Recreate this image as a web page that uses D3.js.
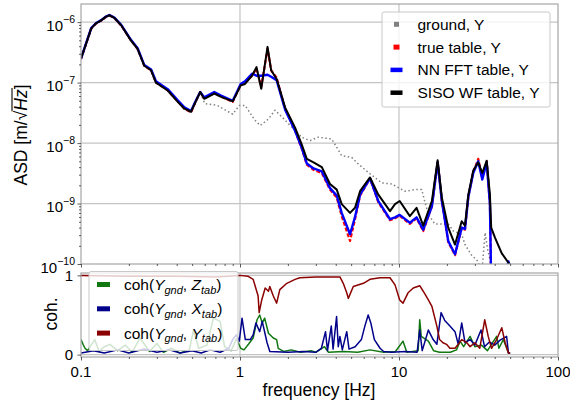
<!DOCTYPE html>
<html>
<head>
<meta charset="utf-8">
<script src="https://cdn.jsdelivr.net/npm/d3@7"></script>
<style>
  body { margin: 0; background: #fff; }
  text { font-family: "Liberation Sans", Arial, sans-serif; fill: #000; }
</style>
</head>
<body>
<svg id="chart" width="570" height="404"></svg>
<script>
// ASD curves (top panel)
const fTab = [0.1,0.108,0.116,0.124,0.134,0.143,0.151,0.162,0.179,0.206,0.227,0.25,0.276,0.296,0.351,0.406,0.447,0.492,0.529,0.562,
  0.596,0.689,0.76,0.9,0.93,1.01,1.075,1.19,1.27,1.36,1.49,1.57,1.7,1.92,2.22,2.44,2.63,2.9,3.27,3.68,
  4.06,4.36,4.92,5.29,5.69,6.57,7.41,8.78,9.44,10.1,11.7,12.9,14.2,16.1,17.5,18.6,20.4,22.5,24.8,26,
  27.3,29.3,31.5,33.4,35.6,37.3,38,40.2,44.3,48.8,50];
const sisoTable = [2.5e-7,4.5e-7,7.9e-7,9.5e-7,1.07e-6,1.22e-6,1.3e-6,1.18e-6,8.9e-7,5e-7,3.6e-7,1.9e-7,1.6e-7,1.0e-7,7.4e-8,4.8e-8,3.7e-8,3.3e-8,5e-8,7e-8,
  5.4e-8,6.6e-8,5.8e-8,4.9e-8,5.8e-8,9e-8,9.5e-8,1.3e-7,1.8e-7,7.9e-8,3.9e-7,1.6e-7,1.15e-7,3.9e-8,1.8e-8,9.6e-9,5.5e-9,4.8e-9,4e-9,2.1e-9,
  1.7e-9,9.8e-10,7e-10,8.5e-10,1.6e-9,2.7e-9,1.4e-9,7.5e-10,9.8e-10,1.1e-9,6.2e-10,8.5e-10,4.3e-10,1.1e-9,5.2e-9,1.25e-9,4e-10,2.1e-10,5.1e-10,4.3e-10,
  1.4e-9,3.5e-9,4.8e-9,3.2e-9,5.1e-9,1.4e-9,4e-10,2.7e-10,1.5e-10,1.05e-10,9.5e-11];
const nnTable = [2.5e-7,4.6e-7,8e-7,9.6e-7,1.08e-6,1.23e-6,1.31e-6,1.19e-6,9e-7,5.1e-7,3.7e-7,1.95e-7,1.65e-7,1.05e-7,7.8e-8,5.1e-8,3.9e-8,3.4e-8,5.1e-8,7e-8,
  5.7e-8,7e-8,6.1e-8,5e-8,6e-8,9.5e-8,1.05e-7,1.4e-7,1.3e-7,1.3e-7,1.35e-7,1.25e-7,1.1e-7,3.6e-8,1.6e-8,8.5e-9,4.6e-9,3.8e-9,3.4e-9,1.8e-9,
  1.35e-9,7e-10,3.1e-10,6e-10,1.4e-9,2.6e-9,1.1e-9,5.5e-10,5.9e-10,6.5e-10,4.8e-10,5.9e-10,3.7e-10,9e-10,4.8e-9,1.1e-9,2.4e-10,1.45e-10,4e-10,3.8e-10,
  1.3e-9,3.2e-9,5e-9,2.5e-9,4.8e-9,1e-9,5e-11,3e-11,4e-11,1.1e-10,9e-11];
const trueTable = [2.45e-7,4.5e-7,7.8e-7,9.4e-7,1.06e-6,1.21e-6,1.29e-6,1.17e-6,8.8e-7,5e-7,3.6e-7,1.9e-7,1.6e-7,1.0e-7,7.5e-8,4.9e-8,3.7e-8,3.2e-8,5e-8,6.9e-8,
  5.5e-8,6.7e-8,5.9e-8,4.8e-8,5.8e-8,9e-8,9.8e-8,1.3e-7,1.7e-7,8.5e-8,3.6e-7,1.6e-7,1.2e-7,3.7e-8,1.6e-8,8.2e-9,4.4e-9,3.6e-9,3.2e-9,1.7e-9,
  1.25e-9,6.2e-10,2.4e-10,5.5e-10,1.35e-9,2.6e-9,1.05e-9,5.3e-10,5.7e-10,6.3e-10,4.6e-10,5.7e-10,3.5e-10,9e-10,5e-9,1.1e-9,2.3e-10,1.4e-10,3.9e-10,3.7e-10,
  1.3e-9,3.3e-9,5.5e-9,2.7e-9,5e-9,1e-9,5e-11,3e-11,4e-11,1.05e-10,9e-11];

const fGnd = [0.1,0.108,0.116,0.124,0.134,0.143,0.151,0.162,0.179,0.206,0.227,0.25,0.276,0.296,0.351,0.406,0.447,0.492,0.529,0.562,
  0.6,0.72,0.9,0.99,1.075,1.24,1.34,1.51,1.66,1.92,2.44,2.76,3.1,3.77,4.36,5.04,5.55,6.57,7.79,9.0,
  10.9,12.6,13.9,14.5,15.3,16.8,18.6,20.4,22,24.8,26,28.6,31.5,33,34.8,36,37.3,40,50];
const ground = [2.5e-7,4.5e-7,7.9e-7,9.5e-7,1.07e-6,1.22e-6,1.3e-6,1.18e-6,8.9e-7,5e-7,3.6e-7,1.9e-7,1.6e-7,1e-7,7.4e-8,4.8e-8,3.7e-8,3.3e-8,5e-8,7e-8,
  4.5e-8,4.2e-8,3e-8,4.2e-8,4.2e-8,2.4e-8,1.95e-8,2.5e-8,3.5e-8,2.4e-8,1.25e-8,1.1e-8,1.25e-8,1.17e-8,6.2e-9,5.8e-9,4.5e-9,3.1e-9,2.2e-9,2.1e-9,
  1.6e-9,1.7e-9,1.7e-9,1.1e-9,6.6e-10,4.6e-10,4.6e-10,4.6e-10,3.5e-10,3.1e-10,2.1e-10,1.4e-10,1.1e-10,6e-11,3.3e-10,1.8e-10,1.2e-10,5e-11,5e-11];

// coherence (bottom panel)
const fCohY = [0.1,0.2,0.4,0.7,1.0,1.12,1.21,1.3,1.32,1.37,1.44,1.51,1.54,1.62,1.7,1.78,1.97,2.22,2.38,3.0,
  4.25,4.46,4.69,4.8,5.16,5.97,6.57,7.59,8.78,9.44,10.1,10.6,11.4,12.3,13.5,14.2,15.3,16.1,17.3,18.0,
  18.9,19.9,20.9,22.5,23.6,24.8,26.7,28.0,30.0,32.2,34.6,36.4,38.2,41.1,44.3,46.5,48.8,50];
const cohY = [1.0,0.99,0.99,0.98,1.0,0.99,0.95,0.74,0.53,0.69,0.84,0.8,0.86,0.74,0.65,0.82,0.9,0.95,0.97,0.98,
  0.98,0.9,0.78,0.71,0.86,0.9,0.95,0.97,0.97,0.88,0.69,0.65,0.78,0.84,0.87,0.8,0.69,0.61,0.36,0.19,
  0.15,0.13,0.08,0.08,0.13,0.19,0.15,0.1,0.15,0.08,0.44,0.23,0.08,0.19,0.34,0.15,0.02,0.02];

const fCohZ = [0.1,0.103,0.106,0.11,0.122,0.13,0.14,0.152,0.17,0.19,0.21,0.235,0.27,0.3,0.33,0.37,0.42,0.48,0.51,0.55,
  0.62,0.68,0.75,0.8,0.88,0.95,1.01,1.06,1.13,1.21,1.28,1.33,1.38,1.43,1.51,1.62,1.7,1.74,1.88,2.1,
  2.4,2.8,3.0,3.4,3.6,4.5,5.5,6.57,8.0,9.5,10.6,11.2,13.2,13.5,13.8,15.3,16.5,18,21,23,
  24.2,25.5,28,30,33,36,41.1,42.5,45.3,48.8,50];
const cohZ = [0.19,0.13,0.08,0.05,0.19,0.04,0.1,0.13,0.05,0.12,0.03,0.21,0.04,0.14,0.03,0.08,0.02,0.06,0.31,0.08,
  0.12,0.46,0.42,0.1,0.05,0.2,0.08,0.06,0.13,0.21,0.44,0.5,0.4,0.46,0.27,0.21,0.19,0.08,0.04,0.06,
  0.03,0.05,0.03,0.1,0.03,0.04,0.03,0.06,0.03,0.04,0.17,0.03,0.05,0.44,0.23,0.17,0.05,0.03,0.03,0.06,
  0.17,0.1,0.23,0.1,0.12,0.05,0.23,0.08,0.19,0.02,0.02];

const fCohX = [0.1,0.12,0.14,0.17,0.2,0.25,0.3,0.36,0.42,0.5,0.57,0.65,0.75,0.85,0.9,0.95,0.99,1.03,1.08,1.16,
  1.21,1.26,1.33,1.38,1.48,1.54,2.0,2.5,3.0,3.25,3.45,3.55,3.75,3.85,4.05,4.15,4.25,4.4,4.69,4.85,
  5.3,5.8,6.1,6.4,6.65,7.0,7.6,8.0,9,11,13,13.5,14.0,15.3,16.4,17.3,18.4,19.4,20.9,22.5,
  23.6,24.8,26,28,30,32.8,34.5,37,40,43,47.5,48.8,50];
const cohX = [0.02,0.05,0.02,0.06,0.02,0.07,0.03,0.06,0.02,0.05,0.02,0.06,0.03,0.08,0.19,0.25,0.17,0.46,0.19,0.19,
  0.25,0.4,0.29,0.42,0.15,0.04,0.03,0.04,0.03,0.08,0.29,0.05,0.36,0.07,0.48,0.1,0.23,0.06,0.29,0.07,
  0.1,0.19,0.36,0.5,0.4,0.19,0.08,0.04,0.03,0.04,0.03,0.31,0.05,0.31,0.19,0.13,0.53,0.43,0.36,0.29,
  0.13,0.4,0.15,0.19,0.12,0.31,0.1,0.16,0.12,0.18,0.23,0.02,0.02];

const xTickLabels = ["0.1", "1", "10", "100"];
const asdLegend = ["ground, Y", "true table, Y", "NN FFT table, Y", "SISO WF table, Y"];
const cohLegend = [["Z", "tab"], ["X", "tab"], ["Y", "tab"]];

const svg = d3.select("#chart");
const gridCol = "#c4c4c4", spineCol = "#a6a6a6";

const x = d3.scaleLog().domain([0.1, 100]).range([81, 558]);
const yA = d3.scaleLog().domain([1e-10, Math.pow(10, -5.7)]).range([264, 4]);
const yC = d3.scaleLinear().domain([-0.03, 1.03]).range([357, 273]);

const decades = [0.1, 1, 10, 100];
const minorX = [];
[0.1, 1, 10].forEach(d => { for (let k = 2; k <= 9; k++) minorX.push(d * k); });

svg.append("defs").append("clipPath").attr("id", "clipA")
  .append("rect").attr("x", 81).attr("y", 4).attr("width", 477).attr("height", 260);
svg.select("defs").append("clipPath").attr("id", "clipC")
  .append("rect").attr("x", 81).attr("y", 273).attr("width", 477).attr("height", 84);

// ---------- grids
const grid = svg.append("g").attr("stroke", gridCol).attr("stroke-width", 1.2);
[1e-9, 1e-8, 1e-7, 1e-6].forEach(v => grid.append("line")
  .attr("x1", 81).attr("x2", 558).attr("y1", yA(v)).attr("y2", yA(v)));
[0, 1].forEach(v => grid.append("line")
  .attr("x1", 81).attr("x2", 558).attr("y1", yC(v)).attr("y2", yC(v)));
[1, 10].forEach(v => {
  grid.append("line").attr("x1", x(v)).attr("x2", x(v)).attr("y1", 4).attr("y2", 264);
  grid.append("line").attr("x1", x(v)).attr("x2", x(v)).attr("y1", 273).attr("y2", 357);
});

// ---------- ASD lines
const lineA = d3.line().x(d => x(d[0])).y(d => yA(d[1]));
const pA = svg.append("g").attr("clip-path", "url(#clipA)").attr("fill", "none")
  .attr("stroke-linejoin", "round");
pA.append("path").datum(d3.zip(fGnd, ground)).attr("d", lineA)
  .attr("stroke", "#808080").attr("stroke-width", 1.5).attr("stroke-dasharray", "1.5,2.5");
pA.append("path").datum(d3.zip(fTab, trueTable)).attr("d", lineA)
  .attr("stroke", "#ff0000").attr("stroke-width", 2.2).attr("stroke-dasharray", "4,2");
pA.append("path").datum(d3.zip(fTab, nnTable)).attr("d", lineA)
  .attr("stroke", "#0000ff").attr("stroke-width", 2.4);
pA.append("path").datum(d3.zip(fTab, sisoTable)).attr("d", lineA)
  .attr("stroke", "#000000").attr("stroke-width", 2);

// ---------- coherence lines
const lineC = d3.line().x(d => x(d[0])).y(d => yC(d[1]));
const pC = svg.append("g").attr("clip-path", "url(#clipC)").attr("fill", "none")
  .attr("stroke-width", 1.5).attr("stroke-linejoin", "round");
pC.append("path").datum(d3.zip(fCohZ, cohZ)).attr("d", lineC).attr("stroke", "#117711");
pC.append("path").datum(d3.zip(fCohX, cohX)).attr("d", lineC).attr("stroke", "#00008b");
pC.append("path").datum(d3.zip(fCohY, cohY)).attr("d", lineC).attr("stroke", "#8b0000");

// ---------- frames
const frame = svg.append("g").attr("fill", "none").attr("stroke", spineCol).attr("stroke-width", 1.2);
frame.append("rect").attr("x", 81).attr("y", 4).attr("width", 477).attr("height", 260);
frame.append("rect").attr("x", 81).attr("y", 273).attr("width", 477).attr("height", 84);

// ---------- ticks
function tickAxis(axis, tx, ty) {
  const g = svg.append("g").attr("transform", `translate(${tx},${ty})`).call(axis);
  g.select(".domain").remove();
  g.selectAll(".tick line").attr("stroke", "#333").attr("stroke-width", 0.8);
  return g;
}
[264, 357].forEach(yy => {
  tickAxis(d3.axisBottom(x).tickValues(decades).tickSize(3.5).tickFormat(""), 0, yy);
  tickAxis(d3.axisBottom(x).tickValues(minorX).tickSize(2).tickFormat(""), 0, yy);
});
const majorY = [1e-10, 1e-9, 1e-8, 1e-7, 1e-6];
const minorY = [];
[1e-10, 1e-9, 1e-8, 1e-7, 1e-6].forEach(d => { for (let k = 2; k <= 9; k++) if (d * k <= Math.pow(10, -5.7)) minorY.push(d * k); });
tickAxis(d3.axisLeft(yA).tickValues(majorY).tickSize(3.5).tickFormat(""), 81, 0);
tickAxis(d3.axisLeft(yA).tickValues(minorY).tickSize(2).tickFormat(""), 81, 0);
tickAxis(d3.axisLeft(yC).tickValues([0, 1]).tickSize(3.5).tickFormat(""), 81, 0);

// tick labels
majorY.forEach(v => {
  const t = svg.append("text").attr("x", 75).attr("y", yA(v) + 8.5).attr("text-anchor", "end");
  t.append("tspan").attr("font-size", 15).text("10");
  t.append("tspan").attr("font-size", 10.5).attr("dy", -7.5).text("\u2212" + Math.round(-Math.log10(v)));
});
[0, 1].forEach(v => svg.append("text").attr("x", 73).attr("y", yC(v) + 5.5)
  .attr("text-anchor", "end").attr("font-size", 15).text(v));
decades.forEach((v, i) => svg.append("text").attr("x", x(v)).attr("y", 377)
  .attr("text-anchor", "middle").attr("font-size", 15).text(xTickLabels[i]));

// axis labels
svg.append("text").attr("x", 319).attr("y", 396).attr("text-anchor", "middle")
  .attr("font-size", 17.5).text("frequency [Hz]");
const yl = svg.append("g").attr("transform", "translate(27,135) rotate(-90)");
const ylt = yl.append("text").attr("text-anchor", "middle").attr("font-size", 17.5);
ylt.append("tspan").text("ASD [m/");
const rad = ylt.append("tspan").text("\u221A");
const hz = ylt.append("tspan").attr("font-style", "italic").text("Hz");
ylt.append("tspan").text("]");
const rb = rad.node().getBBox(), hb = hz.node().getBBox();
yl.append("line").attr("x1", rb.x + rb.width - 1).attr("x2", hb.x + hb.width + 1)
  .attr("y1", -15).attr("y2", -15).attr("stroke", "#000").attr("stroke-width", 1.1);
svg.append("text").attr("transform", "translate(57,314) rotate(-90)").attr("text-anchor", "middle")
  .attr("font-size", 17.5).text("coh.");

// ---------- legends
const lgA = svg.append("g");
lgA.append("rect").attr("x", 382).attr("y", 12).attr("width", 168).attr("height", 95).attr("rx", 2)
  .attr("fill", "#fff").attr("fill-opacity", 0.8).attr("stroke", "#c8c8c8");
const hA = [{ c: "#808080", w: 5, h: 5 }, { c: "#ff0000", w: 6, h: 5 }, { c: "#0000ff", w: 12, h: 4.5 }, { c: "#000", w: 12, h: 4.5 }];
asdLegend.forEach((s, i) => {
  const yy = 24.3 + i * 22.8;
  lgA.append("rect").attr("x", 396.5 - hA[i].w / 2).attr("y", yy - hA[i].h / 2)
    .attr("width", hA[i].w).attr("height", hA[i].h).attr("fill", hA[i].c);
  lgA.append("text").attr("x", 417.5).attr("y", yy + 5.5).attr("font-size", 15.5).text(s);
});

const lgC = svg.append("g");
lgC.append("rect").attr("x", 89).attr("y", 271.5).attr("width", 149).attr("height", 79).attr("rx", 2)
  .attr("fill", "#fff").attr("fill-opacity", 0.8).attr("stroke", "#c8c8c8");
const cohCols = ["#117711", "#00008b", "#8b0000"];
cohLegend.forEach((s, i) => {
  const yy = 284.5 + i * 24.3;
  lgC.append("rect").attr("x", 97).attr("y", yy - 2.5).attr("width", 13).attr("height", 5).attr("fill", cohCols[i]);
  const t = lgC.append("text").attr("x", 124).attr("y", yy + 5.5).attr("font-size", 15.5);
  t.append("tspan").text("coh(");
  t.append("tspan").attr("font-style", "italic").text("Y");
  t.append("tspan").attr("font-style", "italic").attr("font-size", 11).attr("dy", 3.5).text("gnd");
  t.append("tspan").attr("dy", -3.5).text(", ");
  t.append("tspan").attr("font-style", "italic").text(s[0]);
  t.append("tspan").attr("font-style", "italic").attr("font-size", 11).attr("dy", 3.5).text(s[1]);
  t.append("tspan").attr("dy", -3.5).text(")");
});
</script>
</body>
</html>
